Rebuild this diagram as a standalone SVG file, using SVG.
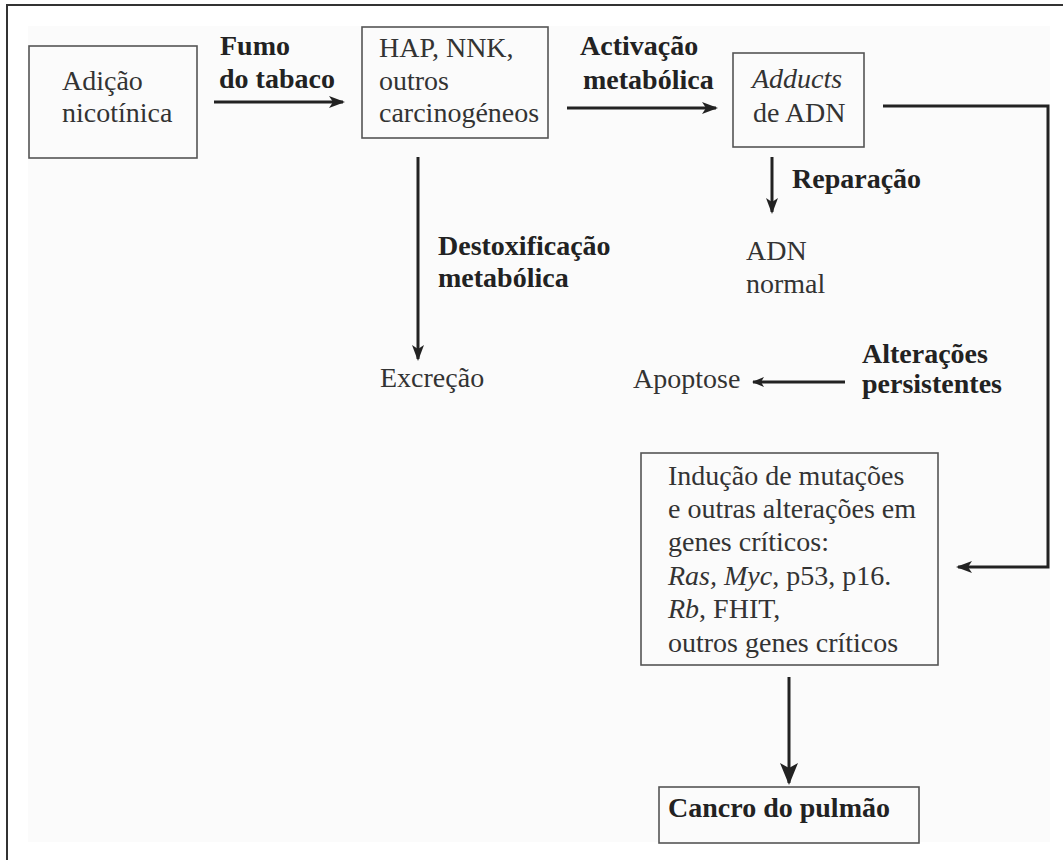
<svg xmlns="http://www.w3.org/2000/svg" width="1063" height="860" viewBox="0 0 1063 860">
<style>
.t{font-family:"Liberation Serif","Times New Roman",serif;font-size:28px;fill:#333}
.b{font-weight:bold;fill:#222}
.i{font-style:italic}
.box{fill:none;stroke:#555;stroke-width:1.6}
.c{fill:none;stroke:#222;stroke-width:3}
</style>
<defs>
<marker id="ah" markerUnits="userSpaceOnUse" markerWidth="16" markerHeight="12" refX="14" refY="6" orient="auto">
<path d="M0,0 L16,6 L0,12 L4,6 Z" fill="#222"/>
</marker>
<marker id="ahs" markerUnits="userSpaceOnUse" markerWidth="12" markerHeight="10" refX="11" refY="5" orient="auto">
<path d="M0,0 L12,5 L0,10 L3,5 Z" fill="#222"/>
</marker>
<marker id="ahb" markerUnits="userSpaceOnUse" markerWidth="22" markerHeight="18" refX="20" refY="9" orient="auto">
<path d="M0,0 L22,9 L0,18 L5,9 Z" fill="#222"/>
</marker>
</defs>
<rect x="0" y="0" width="1063" height="860" fill="#fff"/>
<rect x="28" y="26" width="1022" height="816" fill="#fbfbfb"/>
<path d="M7,860 L7,5 L1063,5" fill="none" stroke="#333" stroke-width="2"/>

<g id="n-adicao">
<rect class="box" x="29" y="46" width="168" height="112"/>
<text class="t" x="62" y="90">Adição</text>
<text class="t" x="62" y="122">nicotínica</text>
</g>
<g id="n-hap">
<rect class="box" x="362" y="27" width="186" height="111"/>
<text class="t" x="379" y="57">HAP, NNK,</text>
<text class="t" x="379" y="90">outros</text>
<text class="t" x="379" y="122">carcinogéneos</text>
</g>
<g id="n-adducts">
<rect class="box" x="733" y="53" width="131" height="94"/>
<text class="t i" x="752" y="88">Adducts</text>
<text class="t" x="753" y="122">de ADN</text>
</g>
<g id="n-adnnormal">
<text class="t" x="746" y="260">ADN</text>
<text class="t" x="746" y="293">normal</text>
</g>
<g id="n-excrecao">
<text class="t" x="380" y="387">Excreção</text>
</g>
<g id="n-apoptose">
<text class="t" x="633" y="388">Apoptose</text>
</g>
<g id="n-mutacoes">
<rect class="box" x="641" y="453" width="297" height="212"/>
<text class="t" x="668" y="485">Indução de mutações</text>
<text class="t" x="668" y="518">e outras alterações em</text>
<text class="t" x="668" y="551">genes críticos:</text>
<text class="t" x="668" y="585"><tspan class="i">Ras, Myc</tspan>, p53, p16.</text>
<text class="t" x="668" y="618"><tspan class="i">Rb</tspan>, FHIT,</text>
<text class="t" x="668" y="652">outros genes críticos</text>
</g>
<g id="n-cancro">
<rect class="box" x="659" y="787" width="260" height="56"/>
<text class="t b" x="668" y="817">Cancro do pulmão</text>
</g>

<g id="labels">
<text class="t b" x="220" y="55">Fumo</text>
<text class="t b" x="219" y="88">do tabaco</text>
<text class="t b" x="580" y="55">Activação</text>
<text class="t b" x="583" y="89">metabólica</text>
<text class="t b" x="792" y="188">Reparação</text>
<text class="t b" x="438" y="255">Destoxificação</text>
<text class="t b" x="438" y="287">metabólica</text>
<text class="t b" x="862" y="363">Alterações</text>
<text class="t b" x="862" y="393">persistentes</text>
</g>

<g id="connectors">
<line class="c" x1="214" y1="102" x2="343" y2="102" marker-end="url(#ah)"/>
<line class="c" x1="567" y1="108" x2="716" y2="108" marker-end="url(#ah)"/>
<line class="c" x1="418" y1="157" x2="418" y2="359" marker-end="url(#ah)"/>
<line class="c" x1="772" y1="157" x2="772" y2="212" marker-end="url(#ah)"/>
<line class="c" stroke-width="2" x1="845" y1="382" x2="753" y2="382" marker-end="url(#ahs)"/>
<polyline class="c" points="883,106 1048,106 1048,567 958,567" marker-end="url(#ah)"/>
<line class="c" stroke-width="5" x1="789" y1="677" x2="789" y2="783" marker-end="url(#ahb)"/>
</g>
</svg>
